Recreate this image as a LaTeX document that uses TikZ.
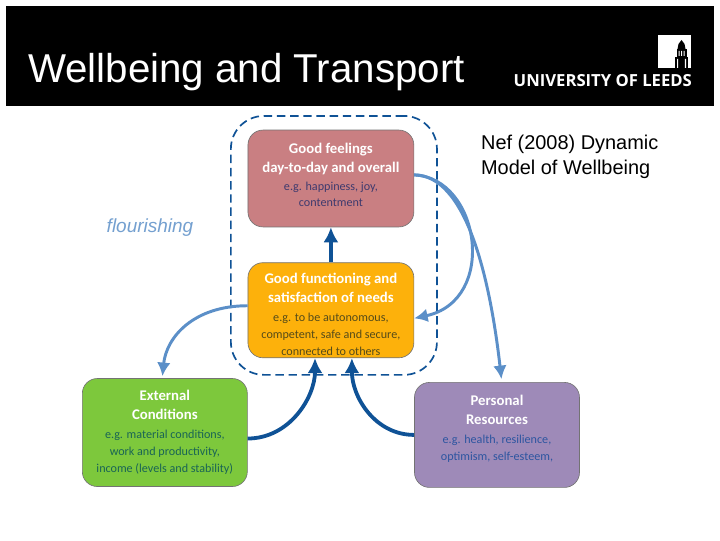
\documentclass[tikz,border=0pt]{standalone}
\usepackage{fontspec}
\setmainfont{Liberation Sans}
\newfontfamily\boxfont{Carlito}
\newfontfamily\logofont{Open Sans}
\usetikzlibrary{arrows.meta,positioning,calc}
\definecolor{feelred}{RGB}{201,127,130}
\definecolor{funcorange}{RGB}{253,177,11}
\definecolor{extgreen}{RGB}{125,200,60}
\definecolor{perspurple}{RGB}{158,138,184}
\definecolor{feeltext}{RGB}{62,58,110}
\definecolor{functext}{RGB}{85,75,25}
\definecolor{exttext}{RGB}{25,100,85}
\definecolor{perstext}{RGB}{45,85,160}
\definecolor{lsblue}{RGB}{91,143,200}
\definecolor{dkblue}{RGB}{15,82,150}
\tikzset{
  goodbox/.style={draw=black!55, semithick, rounded corners=0.5cm, minimum width=5.53cm, align=center, font=\boxfont\fontsize{11.5}{16}\selectfont, inner sep=0pt},
  ring/.style={draw=dkblue, line width=1.6pt, dash pattern=on 8pt off 4.5pt, rounded corners=1.1cm, minimum width=6.87cm, minimum height=8.63cm},
  arr/.style={-{Latex[length=0.45cm,width=0.45cm]}, lsblue, line width=2.8pt},
  arrd/.style={-{Latex[length=0.5cm,width=0.5cm]}, dkblue, line width=3.6pt},
}
\newcommand{\headline}[1]{{\bfseries\color{white}\fontsize{14}{19}\selectfont #1}}
\begin{document}
\begin{tikzpicture}
  \useasboundingbox (0,0) rectangle (24,18);
  \fill[white] (0,0) rectangle (24,18);
  % header
  \node[fill=black, minimum width=23.6cm, minimum height=3.33cm, inner sep=0pt] (banner) at (12,16.13) {};
  \node[anchor=west, text=white, font=\fontsize{38.2}{44}\selectfont, inner sep=0pt] (title) at (0.93,15.6) {Wellbeing and Transport};
  \node[fill=white, minimum size=1.1cm, inner sep=0pt] (crest) at (22.48,16.27) {};
  \node[anchor=east, text=white, font=\logofont\bfseries\fontsize{15.8}{18}\selectfont, inner sep=0pt] (leeds) at (23.07,15.33) {UNIVERSITY OF LEEDS};
  \begin{scope}[x=1cm/30, y=-1cm/30, shift={(0cm,18cm)}]
    \fill[black] (681.5,40) -- (684.5,44) -- (685.5,49) -- (677.5,49) -- (678.5,44) -- cycle;
    \fill[black] (676.5,49) rectangle (686.5,57);
    \fill[black] (675,57) rectangle (688,68);
    \fill[white] (678.5,51) rectangle (679.5,56) (681,51) rectangle (682,56) (683.5,51) rectangle (684.5,56);
    \fill[white] (677,59) rectangle (678.2,68) (684.8,59) rectangle (686,68);
  \end{scope}
  % caption texts
  \node[anchor=north west, align=left, font=\fontsize{18.9}{23}\selectfont, inner sep=0pt] (nef) at (16.03,13.49) {Nef (2008) Dynamic\\Model of Wellbeing};
  \node[text=lsblue!85, font=\itshape\fontsize{18}{20}\selectfont, inner sep=0pt] (flourishing) at (5,10.4) {flourishing};
  % boxes
  \node[ring] (dash) at (11.13,9.82) {};
  \node[goodbox, fill=feelred, minimum height=3.23cm] (feel) at (11.03,12.05)
    {\rule{0pt}{12pt}\headline{Good feelings}\\[2pt]\headline{day-to-day and overall}\\[1pt]{\color{feeltext}e.g. happiness, joy,}\\{\color{feeltext}contentment}\rule[-9pt]{0pt}{9pt}};
  \node[goodbox, fill=funcorange, minimum height=3.17cm, below=1.17cm of feel] (func)
    {\rule{0pt}{18pt}\headline{Good functioning and}\\[2pt]\headline{satisfaction of needs}\\[2pt]{\color{functext}e.g. to be autonomous,}\\{\color{functext}competent, safe and secure,}\\{\color{functext}connected to others}};
  \node[goodbox, fill=extgreen, minimum width=5.5cm, minimum height=3.6cm, below left=0.67cm and 0cm of func.south west] (ext)
    {\headline{External}\\[2pt]\headline{Conditions}\\[2pt]{\color{exttext}e.g. material conditions,}\\{\color{exttext}work and productivity,}\\{\color{exttext}income (levels and stability)}};
  \node[goodbox, fill=perspurple, minimum width=5.5cm, minimum height=3.5cm, below right=0.8cm and 0cm of func.south east] (pers)
    {\headline{Personal}\\[2pt]\headline{Resources}\\[2pt]{\color{perstext}e.g. health, resilience,}\\{\color{perstext}optimism, self-esteem,}\rule[-14pt]{0pt}{14pt}};
  % connectors
  \draw[arrd] (func.north) -- (feel.south);
  \draw[arrd] ([yshift=-0.2cm]ext.east) .. controls +(1.4,0) and +(0,-1.3) .. ([xshift=-0.53cm]func.south);
  \draw[arrd] (pers.west) .. controls +(-1.3,0) and +(0,-1.3) .. ([xshift=0.7cm]func.south);
  \draw[arr] ([yshift=0.12cm]feel.east) .. controls +(1.7,0) and +(-0.4,3.5) .. ($(pers.north)+(0.15,0.1)$);
  \draw[arr] ([yshift=0.12cm]feel.east) .. controls +(2.2,-0.1) and +(2.8,0.6) .. ([yshift=-0.27cm]func.east);
  \draw[arr] ([yshift=0.15cm]func.west) .. controls +(-1.8,0) and +(0.13,1.3) .. ($(ext.north)+(-0.08,0.07)$);
\end{tikzpicture}
\end{document}
